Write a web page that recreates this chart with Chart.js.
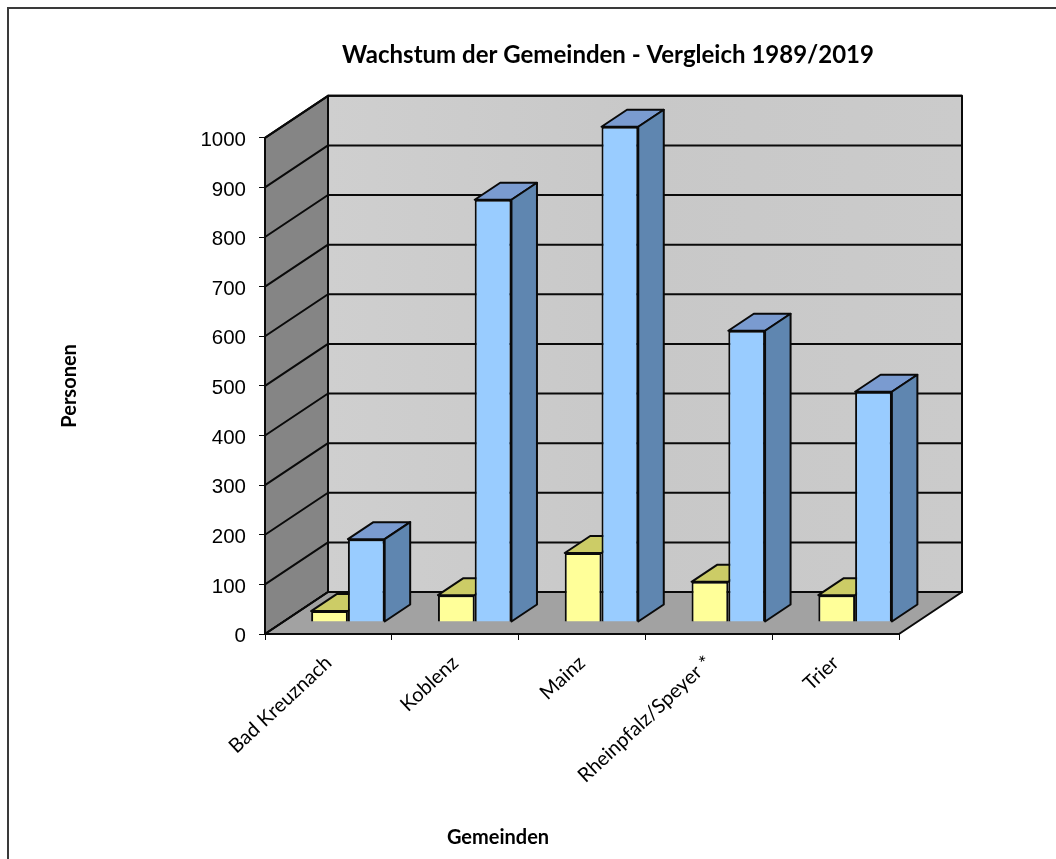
<!DOCTYPE html>
<html>
<head>
<meta charset="utf-8">
<style>html,body{margin:0;padding:0;background:#fff;overflow:hidden}canvas{display:block}</style>
<script src="https://cdn.jsdelivr.net/npm/chart.js@4"></script>
</head>
<body>
<canvas id="c" width="1056" height="859"></canvas>
<script>
const categories = ['Bad Kreuznach', 'Koblenz', 'Mainz', 'Rheinpfalz/Speyer *', 'Trier'];
const values1989 = [22, 54, 139, 81, 54];
const values2019 = [167, 851, 998, 587, 464];
const titleText = 'Wachstum der Gemeinden - Vergleich 1989/2019';
const xTitle = 'Gemeinden';
const yTitle = 'Personen';

const WALL_DX = 63, WALL_DY = 42;   // depth of the chart box
const BAR_DX = 19.5, BAR_DY = 12;   // bars stand inside the box
const FACE_DX = 25.5, FACE_DY = 17; // depth of each bar
const INK = '#0a0a0a';

function poly(ctx, pts, fill) {
  ctx.beginPath();
  pts.forEach((p, i) => i ? ctx.lineTo(p[0], p[1]) : ctx.moveTo(p[0], p[1]));
  ctx.closePath();
  if (fill) { ctx.fillStyle = fill; ctx.fill(); }
  ctx.stroke();
}

const box3d = {
  id: 'box3d',
  afterLayout(chart) {
    const t = chart.titleBlock;
    t.left = 82; t.right = 1134;
    const s = chart.scales.x;
    if (!s._shifted) {
      const orig = s.drawTitle;
      s.drawTitle = function () {
        const l = s.left, r = s.right;
        s.left = l - 84; s.right = r - 84;
        orig.call(s);
        s.left = l; s.right = r;
      };
      s._shifted = true;
    }
    const ys = chart.scales.y;
    if (!ys._shifted) {
      const orig = ys.drawLabels;
      ys.drawLabels = function (area) {
        chart.ctx.save();
        chart.ctx.translate(0, 2.5);
        orig.call(ys, area);
        chart.ctx.restore();
      };
      ys._shifted = true;
    }
  },
  beforeDraw(chart) {
    const ctx = chart.ctx;
    ctx.save();
    ctx.strokeStyle = '#3a3a3a';
    ctx.lineWidth = 2;
    ctx.beginPath();
    ctx.moveTo(8, 859); ctx.lineTo(8, 8); ctx.lineTo(1056, 8);
    ctx.stroke();
    ctx.restore();
  },
  beforeDatasetsDraw(chart) {
    const ctx = chart.ctx, xs = chart.scales.x, ys = chart.scales.y;
    const L = xs.left, R = xs.right, B = ys.getPixelForValue(0), T = ys.getPixelForValue(1000);
    ctx.save();
    ctx.strokeStyle = INK;
    ctx.lineWidth = 2;
    ctx.lineJoin = 'round';
    const g = ctx.createLinearGradient(L + WALL_DX, 0, R + WALL_DX, 0);
    g.addColorStop(0, '#cfcfcf'); g.addColorStop(0.5, '#c8c8c8'); g.addColorStop(1, '#cbcbcb');
    poly(ctx, [[L + WALL_DX, T - WALL_DY], [R + WALL_DX, T - WALL_DY], [R + WALL_DX, B - WALL_DY], [L + WALL_DX, B - WALL_DY]], g);
    poly(ctx, [[L, B], [L + WALL_DX, B - WALL_DY], [L + WALL_DX, T - WALL_DY], [L, T]], '#858585');
    poly(ctx, [[L, B], [R, B], [R + WALL_DX, B - WALL_DY], [L + WALL_DX, B - WALL_DY]], '#a2a2a2');
    ys.ticks.forEach(t => {
      const y = ys.getPixelForValue(t.value);
      ctx.beginPath();
      ctx.moveTo(L, y);
      ctx.lineTo(L + WALL_DX, y - WALL_DY);
      ctx.lineTo(R + WALL_DX, y - WALL_DY);
      ctx.stroke();
    });
    ctx.restore();

    ctx.save();
    ctx.translate(BAR_DX, -BAR_DY);
    ctx.strokeStyle = INK;
    ctx.lineWidth = 2;
    ctx.lineJoin = 'round';
    chart.data.datasets.forEach((ds, di) => {
      chart.getDatasetMeta(di).data.forEach(bar => {
        const { x, y, base, width } = bar.getProps(['x', 'y', 'base', 'width'], true);
        const l = x - width / 2, r = x + width / 2;
        poly(ctx, [[l, y], [r, y], [r + FACE_DX, y - FACE_DY], [l + FACE_DX, y - FACE_DY]], ds.topColor);
        if (di === 1) {
          poly(ctx, [[r, y], [r + FACE_DX, y - FACE_DY], [r + FACE_DX, base - FACE_DY], [r, base]], ds.sideColor);
        }
      });
    });
    // the bars themselves are drawn by the library in this shifted frame
  },
  afterDatasetsDraw(chart) {
    chart.ctx.restore();
  }
};

new Chart(document.getElementById('c'), {
  type: 'bar',
  plugins: [box3d],
  data: {
    labels: categories,
    datasets: [
      { label: '1989', data: values1989, backgroundColor: '#ffff99', topColor: '#cccc66', sideColor: '#999933',
        borderColor: INK, borderWidth: 2, clip: false },
      { label: '2019', data: values2019, backgroundColor: '#99ccff', topColor: '#7a9bd0', sideColor: '#5f86b0',
        borderColor: INK, borderWidth: 2, clip: false }
    ]
  },
  options: {
    responsive: false,
    animation: false,
    layout: { padding: { left: 58, right: 157, top: 0, bottom: 9 } },
    plugins: {
      legend: { display: false },
      tooltip: { enabled: false },
      title: {
        display: true, text: titleText, color: '#000',
        font: { family: 'Lato', size: 24, weight: 'bold', lineHeight: 1.2 },
        padding: { top: 41, bottom: 68 }
      }
    },
    datasets: { bar: { categoryPercentage: 0.58, barPercentage: 1 } },
    scales: {
      x: {
        type: 'category',
        offset: true,
        afterFit(s) { s.height = 216; },
        border: { color: INK, width: 2, z: 1 },
        grid: { offset: true, drawOnChartArea: false, drawTicks: true, tickLength: 6, color: INK },
        ticks: { minRotation: 43, maxRotation: 43, autoSkip: false, color: '#000', padding: 11,
                 font: { family: 'Lato', size: 20 } },
        title: { display: true, text: xTitle, color: '#000', padding: 0,
                 font: { family: 'Lato', size: 20, weight: 'bold' } }
      },
      y: {
        min: 0, max: 1000,
        afterFit(s) { s.width = 207; },
        border: { color: INK, width: 2, z: 1 },
        grid: { drawOnChartArea: false, drawTicks: true, tickLength: 6, color: INK },
        ticks: { stepSize: 100, color: '#000', padding: 13, callback: v => String(v),
                 font: { family: 'Liberation Sans', size: 20.5 } },
        title: { display: true, text: yTitle, color: '#000', padding: 0,
                 font: { family: 'Lato', size: 20, weight: 'bold' } }
      }
    }
  }
});
</script>
</body>
</html>
